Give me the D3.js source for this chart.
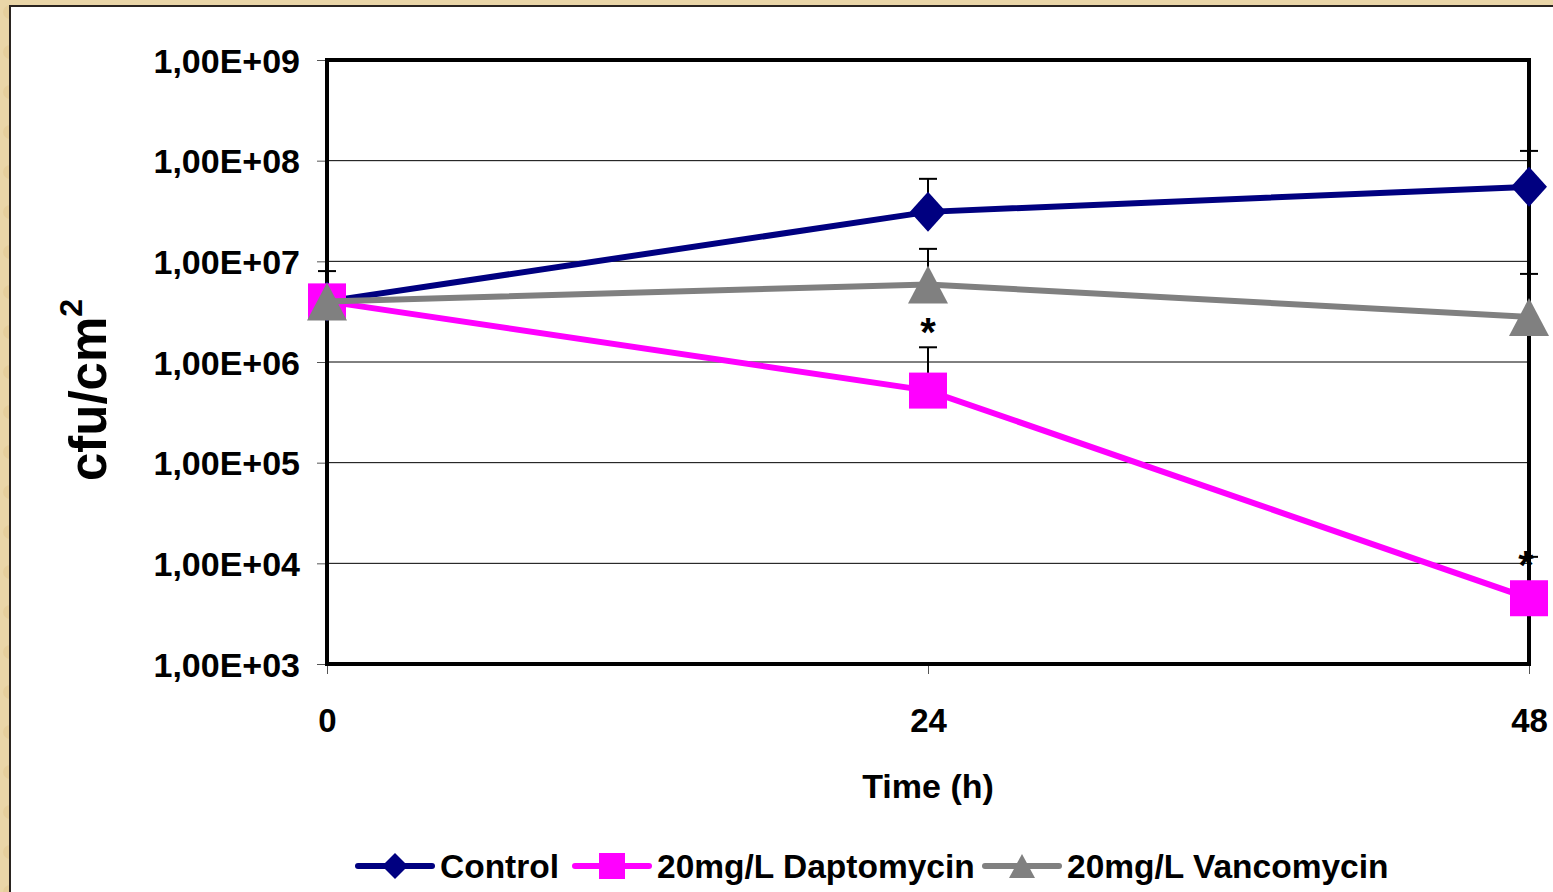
<!DOCTYPE html>
<html><head><meta charset="utf-8">
<script src="https://cdn.jsdelivr.net/npm/d3@7"></script>
<style>
html,body{margin:0;padding:0;background:#e8d3a4;}
svg{display:block;}
text{font-family:"Liberation Sans",Arial,sans-serif;font-weight:bold;}
</style></head>
<body>
<svg id="c" width="1553" height="892"></svg>
<script>
const times = [0, 24, 48];
const seriesNames = ["Control", "20mg/L Daptomycin", "20mg/L Vancomycin"];
const controlVals = [4.0e6, 3.1e7, 5.5e7];
const daptoVals = [4.0e6, 5.2e5, 4.5e3];
const vancoVals = [4.0e6, 5.9e6, 2.8e6];
const controlErrTop = [8.0e6, 6.6e7, 1.25e8];
const daptoErrTop = [null, 1.4e6, 1.16e4];
const vancoErrTop = [null, 1.33e7, 7.5e6];
const yTickVals = [1e3, 1e4, 1e5, 1e6, 1e7, 1e8, 1e9];
const yTickLabels = ["1,00E+03","1,00E+04","1,00E+05","1,00E+06","1,00E+07","1,00E+08","1,00E+09"];
const xTickLabels = ["0", "24", "48"];
const starIdx = [1, 2];

const colors = ["#000080", "#ff00ff", "#808080"];
const series = [
  {name: seriesNames[0], vals: controlVals, err: controlErrTop, color: colors[0], shape: "diamond"},
  {name: seriesNames[1], vals: daptoVals, err: daptoErrTop, color: colors[1], shape: "square"},
  {name: seriesNames[2], vals: vancoVals, err: vancoErrTop, color: colors[2], shape: "triangle"}
];

const svg = d3.select("#c");
const defs = svg.append("defs");
const pat = defs.append("pattern").attr("id","tex").attr("width",40).attr("height",40).attr("patternUnits","userSpaceOnUse");
pat.append("rect").attr("width",40).attr("height",40).attr("fill","#ead6a8");
pat.append("circle").attr("cx",10).attr("cy",12).attr("r",7).attr("fill","#e2c994").attr("opacity",0.6);
pat.append("circle").attr("cx",30).attr("cy",30).attr("r",8).attr("fill","#f1e1ba").attr("opacity",0.7);
svg.append("rect").attr("width",1553).attr("height",892).attr("fill","url(#tex)");
svg.append("rect").attr("x",10).attr("y",6).attr("width",1553).attr("height",900)
  .attr("fill","#fff").attr("stroke","#2a2420").attr("stroke-width",2);

const L = 327, R = 1529, T = 60, B = 664;
const x = d3.scaleLinear().domain([0, 48]).range([L, R]);
const y = d3.scaleLog().domain([1e3, 1e9]).range([B, T]);

svg.append("g").selectAll("line").data(yTickVals.slice(1, -1)).join("line")
  .attr("x1", L).attr("x2", R).attr("y1", d => y(d)).attr("y2", d => y(d))
  .attr("stroke", "#000").attr("stroke-width", 1);

const yAxis = d3.axisLeft(y).tickValues(yTickVals).tickSize(10).tickPadding(17)
  .tickFormat((d, i) => yTickLabels[i]);
const gy = svg.append("g").attr("transform", `translate(${L},0)`).call(yAxis);
gy.select(".domain").remove();
gy.selectAll(".tick line").attr("stroke", "#555").attr("stroke-width", 1);
gy.selectAll(".tick text").attr("font-size", 34).attr("fill", "#000").attr("dy", "0.36em")
  .attr("font-family", "'Liberation Sans',Arial,sans-serif").attr("font-weight","bold");

const xAxis = d3.axisBottom(x).tickValues(times).tickSize(10).tickPadding(58)
  .tickFormat((d, i) => xTickLabels[i]);
const gx = svg.append("g").attr("transform", `translate(0,${B})`).call(xAxis);
gx.select(".domain").remove();
gx.selectAll(".tick line").attr("stroke", "#555").attr("stroke-width", 1);
gx.selectAll(".tick text").attr("font-size", 33).attr("fill", "#000").attr("dy", "0")
  .attr("font-family", "'Liberation Sans',Arial,sans-serif").attr("font-weight","bold");

svg.append("rect").attr("x", L).attr("y", T).attr("width", R - L).attr("height", B - T)
  .attr("fill", "none").attr("stroke", "#000").attr("stroke-width", 4);

svg.append("text").attr("x", 928).attr("y", 798).attr("text-anchor", "middle")
  .attr("font-size", 34).text("Time (h)");
const yt = svg.append("text").attr("transform", "translate(106,390) rotate(-90)")
  .attr("text-anchor", "middle").attr("font-size", 51);
yt.append("tspan").text("cfu/cm");
yt.append("tspan").attr("font-size", 32).attr("dy", "-0.75em").text("2");

function marker(g, shape, color, cx, cy, s) {
  if (shape === "diamond") {
    g.append("path").attr("d", `M${cx},${cy - s.h}L${cx + s.w},${cy}L${cx},${cy + s.h}L${cx - s.w},${cy}Z`).attr("fill", color);
  } else if (shape === "square") {
    g.append("rect").attr("x", cx - s.w).attr("y", cy - s.h).attr("width", 2 * s.w).attr("height", 2 * s.h).attr("fill", color);
  } else {
    g.append("path").attr("d", `M${cx},${cy - s.h}L${cx + s.w},${cy + s.h}L${cx - s.w},${cy + s.h}Z`).attr("fill", color);
  }
}
const sizes = {diamond: {w: 18, h: 20}, square: {w: 19, h: 18}, triangle: {w: 20, h: 19}};

const line = d3.line().x((d, i) => x(times[i])).y(d => y(d));
const plot = svg.append("g");
series.forEach(s => {
  s.err.forEach((e, i) => {
    if (e == null) return;
    const cx = x(times[i]);
    plot.append("line").attr("x1", cx).attr("x2", cx).attr("y1", y(s.vals[i])).attr("y2", y(e))
      .attr("stroke", "#000").attr("stroke-width", 2);
    plot.append("line").attr("x1", cx - 9).attr("x2", cx + 9).attr("y1", y(e)).attr("y2", y(e))
      .attr("stroke", "#000").attr("stroke-width", 2);
  });
});
series.forEach(s => {
  plot.append("path").datum(s.vals).attr("d", line).attr("fill", "none")
    .attr("stroke", s.color).attr("stroke-width", 6);
  s.vals.forEach((v, i) => marker(plot, s.shape, s.color, x(times[i]), y(v), sizes[s.shape]));
});

starIdx.forEach(i => {
  const e = daptoErrTop[i];
  svg.append("text").attr("x", x(times[i]) - (i === 2 ? 3 : 0)).attr("y", y(e) + (i === 2 ? 22 : -1))
    .attr("text-anchor", "middle").attr("font-size", 40).text("*");
});

const legX = [358, 575, 985];
const lg = svg.append("g");
series.forEach((s, i) => {
  const x0 = legX[i], cy = 866;
  lg.append("line").attr("x1", x0).attr("x2", x0 + 74).attr("y1", cy).attr("y2", cy)
    .attr("stroke", s.color).attr("stroke-width", 6).attr("stroke-linecap", "round");
  const sz = s.shape === "triangle" ? {w: 13, h: 12} : {w: 13, h: 13};
  marker(lg, s.shape, s.color, x0 + 37, cy, sz);
  lg.append("text").attr("x", x0 + 82).attr("y", cy + 12).attr("font-size", 33.5).text(s.name);
});
</script>
</body></html>
